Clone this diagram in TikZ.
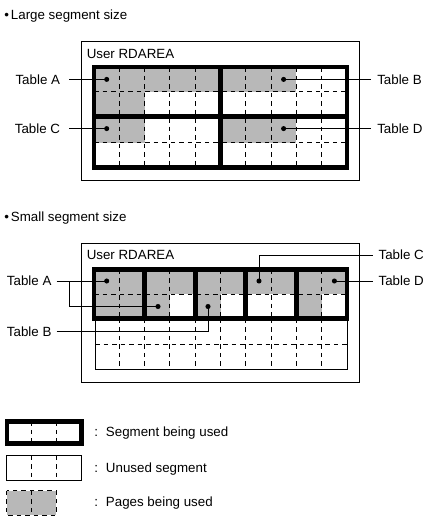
\documentclass[tikz,border=0pt]{standalone}
\usepackage{fontspec}
\setmainfont{Liberation Sans}
\definecolor{pagegray}{RGB}{184,184,184}
\tikzset{
  thinline/.style={line width=0.75pt},
  thickline/.style={line width=3.5pt},
  dashline/.style={line width=0.75pt, dash pattern=on 3.4pt off 3pt},
  usedpage/.style={fill=pagegray},
  dotmark/.style={circle, fill=black, inner sep=0pt, minimum size=3.8pt},
  lbl/.style={inner sep=0pt, font=\fontsize{10}{12}\selectfont},
  conn/.style={line width=0.75pt},
}
\begin{document}
\begin{tikzpicture}[x=0.75pt,y=-0.75pt]
\useasboundingbox (0,0) rectangle (429,524);

% ---------------- Large segment size ----------------
\node[lbl, anchor=base west] (title1) at (4,20) {•\kern1.5pt Large segment size};
\draw[thinline] (81.5,41.5) rectangle (359.5,180.5);
\node[lbl, anchor=base west] (area1) at (86.5,58.3) {User RDAREA};

\path[usedpage] (94,67) rectangle (296.4,91.7);
\path[usedpage] (94,91.7) rectangle (144.6,142.6);
\path[usedpage] (220.5,116.8) rectangle (296.4,142.6);

\foreach \y in {91.7,142.6} \draw[dashline] (94,\y) -- (347,\y);
\foreach \x in {119.3,144.6,169.9,195.2,245.8,271.1,296.4,321.7}
  \draw[dashline] (\x,67) -- (\x,167.6);

\draw[thickline] (94,67) rectangle (347,167.6);
\draw[thickline] (220.5,67) -- (220.5,167.6);
\draw[thickline] (94,116.8) -- (347,116.8);

\node[dotmark] (dA1) at (106.7,79.4) {};
\node[dotmark] (dB1) at (283.6,79.4) {};
\node[dotmark] (dC1) at (106.7,128.6) {};
\node[dotmark] (dD1) at (283.6,128.6) {};

\node[lbl, anchor=east, inner xsep=6.75pt] (tA1) at (69.3,79.4) {Table A};
\node[lbl, anchor=east, inner xsep=6.75pt] (tC1) at (69.3,128.6) {Table C};
\node[lbl, anchor=west, inner xsep=4.5pt] (tB1) at (371,79.4) {Table B};
\node[lbl, anchor=west, inner xsep=4.5pt] (tD1) at (371,128.6) {Table D};

\draw[conn] (tA1.east) -- (dA1.center);
\draw[conn] (tC1.east) -- (dC1.center);
\draw[conn] (dB1.center) -- (tB1.west);
\draw[conn] (dD1.center) -- (tD1.west);

% ---------------- Small segment size ----------------
\node[lbl, anchor=base west] (title2) at (4,221.3) {•\kern1.5pt Small segment size};
\draw[thinline] (81.5,243.5) rectangle (359.5,382.5);
\node[lbl, anchor=base west] (area2) at (86.5,259.3) {User RDAREA};

\path[usedpage] (94,269.5) rectangle (347,294.3);
\path[usedpage] (94,294.3) rectangle (169.9,318.8);
\path[usedpage] (195.2,294.3) rectangle (220.5,318.8);
\path[usedpage] (296.4,294.3) rectangle (321.7,318.8);

\draw[dashline] (94,294.3) -- (347,294.3);
\draw[dashline] (95,344.3) -- (347,344.3);
\foreach \x in {119.3,169.9,220.5,271.1,321.7}
  \draw[dashline] (\x,269.5) -- (\x,318.8);
\foreach \x in {119.3,144.6,169.9,195.2,220.5,245.8,271.1,296.4,321.7}
  \draw[dashline] (\x,318.8) -- (\x,369.3);
\draw[thinline] (95,318.8) -- (95,369.3) -- (347,369.3) -- (347,318.8);

\draw[thickline] (94,269.5) rectangle (347,318.8);
\foreach \x in {144.6,195.2,245.8,296.4}
  \draw[thickline] (\x,269.5) -- (\x,318.8);

\node[dotmark] (dA2) at (106.7,281) {};
\node[dotmark] (dA3) at (158,306.5) {};
\node[dotmark] (dB2) at (208,306.5) {};
\node[dotmark] (dC2) at (259,281) {};
\node[dotmark] (dD2) at (334.4,281) {};

\node[lbl, anchor=east, inner xsep=3.75pt] (tA2) at (56.7,281) {Table A};
\node[lbl, anchor=east, inner xsep=3.75pt] (tB2) at (56.7,331.7) {Table B};
\node[lbl, anchor=west, inner xsep=4.2pt] (tC2) at (372.7,255) {Table C};
\node[lbl, anchor=west, inner xsep=4.2pt] (tD2) at (372.7,281) {Table D};
\coordinate (jA) at (69.3,281);

\draw[conn] (tA2.east) -- (dA2.center);
\draw[conn] (jA) |- (dA3.center);
\draw[conn] (tB2.east) -| (dB2.center);
\draw[conn] (dC2.center) |- (tC2.west);
\draw[conn] (dD2.center) -- (tD2.west);

% ---------------- Legend ----------------
\draw[thickline] (7,421.3) rectangle (81.3,443.6);
\foreach \x in {31.7,56.7} \draw[dashline] (\x,421.3) -- (\x,443.6);
\node[lbl, anchor=base west] (leg1) at (94,436.7) {:\hspace{6pt}Segment being used};

\draw[thinline] (6.7,455.7) rectangle (81.7,480.3);
\foreach \x in {31.7,56.7} \draw[dashline] (\x,455.7) -- (\x,480.3);
\node[lbl, anchor=base west] (leg2) at (94,472.7) {:\hspace{6pt}Unused segment};

\path[usedpage] (6.7,490.7) rectangle (56,515);
\draw[dashline] (6.7,490.7) rectangle (56,515);
\draw[dashline] (31.7,490.7) -- (31.7,515);
\node[lbl, anchor=base west] (leg3) at (94,506) {:\hspace{6pt}Pages being used};
\end{tikzpicture}
\end{document}
